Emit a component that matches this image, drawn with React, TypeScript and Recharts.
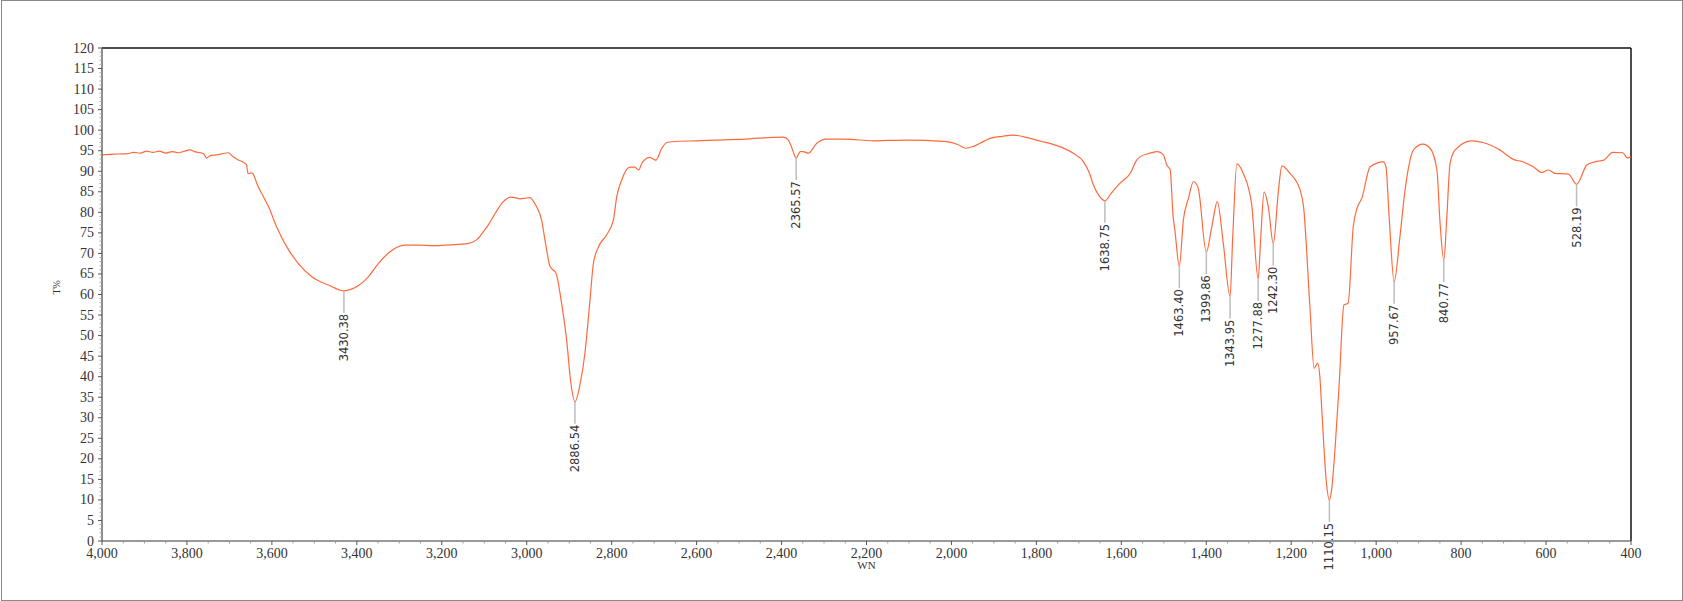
import React from 'react';
import { ComposedChart, Line, Scatter, XAxis, YAxis, ReferenceLine } from 'recharts';

// IR spectrum, wavenumber (cm-1) vs transmittance (%)
const wavenumbers = [
  4000, 3980, 3960, 3940, 3925, 3910, 3895, 3880, 3865, 3850, 3835, 3820, 3805, 3793, 3780, 3768,
  3760, 3754, 3745, 3730, 3715, 3703, 3692, 3680, 3667, 3660, 3656, 3648, 3644, 3636, 3632, 3620,
  3608, 3589, 3565, 3538, 3506, 3467, 3430.38, 3397, 3373, 3349, 3322, 3287, 3255, 3220, 3181, 3140,
  3118, 3102, 3090, 3079, 3068, 3055, 3047, 3039, 3028, 3016, 3005, 2992, 2985, 2977, 2965, 2955,
  2945, 2931, 2918, 2906, 2896, 2886.54, 2874, 2863, 2851, 2843, 2831, 2812, 2796, 2788, 2776, 2757,
  2745, 2737, 2727, 2710, 2696, 2682, 2670, 2640, 2600, 2553, 2520, 2474, 2430, 2396, 2384, 2375,
  2365.57, 2356, 2349, 2337, 2317, 2294, 2250, 2184, 2150, 2105, 2060, 2011, 1985, 1966, 1950, 1933,
  1909, 1880, 1854, 1815, 1790, 1768, 1740, 1713, 1689, 1675, 1666, 1650, 1638.75, 1625, 1611, 1603,
  1579, 1564, 1556, 1532, 1515, 1501, 1493, 1485, 1478, 1474, 1463.4, 1454, 1442, 1430, 1419, 1399.86,
  1387, 1374, 1360, 1343.95, 1338, 1328, 1313, 1293, 1277.88, 1272, 1264, 1254, 1242.3, 1230, 1222, 1203,
  1179, 1171, 1156, 1146, 1138, 1132, 1128, 1117, 1110.15, 1105, 1097, 1087, 1076, 1066, 1054, 1045,
  1034, 1014, 983, 977, 969, 957.67, 944, 932, 912, 890, 873, 857, 850, 840.77, 834, 826,
  814, 775, 748, 709, 677, 655, 630, 610, 594, 579, 547, 528.19, 504, 485, 464, 443,
  420, 408, 400,
];

const transmittance = [
  94.0, 94.1, 94.2, 94.3, 94.6, 94.4, 94.9, 94.6, 94.9, 94.4, 94.8, 94.5, 94.9, 95.2, 94.7, 94.5,
  94.2, 93.2, 93.8, 94.0, 94.3, 94.5, 93.6, 92.8, 92.2, 91.6, 89.4, 89.6, 89.3, 87.2, 86.2, 83.8,
  81.4, 76.5, 71.6, 67.6, 64.3, 62.3, 60.9, 62.1, 64.3, 67.6, 70.4, 72.0, 72.0, 71.9, 72.1, 72.4,
  73.3, 75.3, 77.0, 78.9, 80.8, 82.6, 83.3, 83.7, 83.6, 83.3, 83.4, 83.6, 82.8, 81.4, 78.1, 72.0,
  66.8, 65.2, 57.9, 48.9, 38.4, 33.9, 38.4, 45.7, 58.7, 67.6, 71.6, 74.5, 78.1, 83.8, 88.0, 91.0,
  91.0, 90.3, 92.3, 93.4, 92.7, 95.6, 97.0, 97.3, 97.4, 97.6, 97.7, 97.9, 98.2, 98.3, 97.6, 95.5,
  93.2, 94.8, 94.8, 94.4, 96.8, 97.8, 97.8, 97.4, 97.5, 97.6, 97.5, 97.2, 96.5, 95.6, 96.0, 96.8,
  98.0, 98.5, 98.8, 98.0, 97.3, 96.8, 95.8, 94.4, 92.3, 89.5, 86.7, 83.7, 82.8, 84.5, 86.2, 87.1,
  89.5, 92.7, 93.5, 94.4, 94.8, 94.0, 91.5, 90.3, 78.9, 75.7, 66.9, 78.1, 83.4, 87.5, 85.9, 70.3,
  76.5, 82.6, 72.5, 59.5, 73.3, 91.8, 89.5, 81.8, 63.8, 73.3, 85.0, 81.4, 72.4, 85.4, 91.3, 89.5,
  85.4, 81.4, 57.0, 42.0, 43.3, 39.2, 31.9, 14.0, 10.0, 12.4, 22.2, 38.4, 57.4, 57.9, 76.5, 81.0,
  83.4, 91.1, 92.3, 91.1, 78.1, 63.1, 74.1, 85.4, 95.2, 96.6, 95.6, 90.3, 78.1, 68.4, 78.1, 91.9,
  95.2, 97.4, 97.0, 95.2, 92.9, 92.3, 91.1, 89.7, 90.3, 89.5, 89.3, 86.8, 91.5, 92.3, 92.7, 94.6,
  94.5, 93.2, 93.5,
];

const peakWavenumbers = [3430.38, 2886.54, 2365.57, 1638.75, 1463.4, 1399.86, 1343.95, 1277.88, 1242.3, 1110.15, 957.67, 840.77, 528.19];
const peakTransmittance = [60.9, 33.9, 93.2, 82.8, 66.9, 70.3, 59.5, 63.8, 72.4, 10.0, 63.1, 68.4, 86.8];
const peakLabels = ['3430.38', '2886.54', '2365.57', '1638.75', '1463.40', '1399.86', '1343.95', '1277.88', '1242.30', '1110.15', '957.67', '840.77', '528.19'];

const xMajorTicks = [4000, 3800, 3600, 3400, 3200, 3000, 2800, 2600, 2400, 2200, 2000, 1800, 1600, 1400, 1200, 1000, 800, 600, 400];
const xTicks = Array.from({ length: 73 }, (_, i) => 4000 - i * 50);
const yTicks = Array.from({ length: 121 }, (_, i) => i);

const spectrum = wavenumbers.map((wn, i) => ({ wn, t: transmittance[i] }));
const peaks = peakWavenumbers.map((wn, i) => ({ wn, t: peakTransmittance[i], label: peakLabels[i] }));

const SERIF = '"Liberation Serif", "Times New Roman", serif';

const XTick = (props: any) => {
  const { x, y, payload } = props;
  const major = xMajorTicks.includes(payload.value);
  return (
    <g>
      <line x1={x} x2={x} y1={y} y2={y + (major ? 4 : 2.5)} stroke={major ? '#555' : '#999'} strokeWidth={1} />
      {major && (
        <text x={x} y={y + 17} textAnchor="middle" fontFamily={SERIF} fontSize={14} fill="#333">
          {payload.value.toLocaleString('en-US')}
        </text>
      )}
    </g>
  );
};

const YTick = (props: any) => {
  const { x, y, payload } = props;
  const major = payload.value % 5 === 0;
  return (
    <g>
      <line x1={x - (major ? 4 : 2.5)} x2={x} y1={y} y2={y} stroke={major ? '#555' : '#aaa'} strokeWidth={1} />
      {major && (
        <text x={x - 8} y={y} textAnchor="end" dominantBaseline="central" fontFamily={SERIF} fontSize={14} fill="#333">
          {payload.value}
        </text>
      )}
    </g>
  );
};

const PeakMarker = (props: any) => {
  const { cx, cy, payload } = props;
  if (cx == null || cy == null) return null;
  return (
    <g>
      <line x1={cx} x2={cx} y1={cy} y2={cy + 22} stroke="#bdbdbd" strokeWidth={1.5} />
      <text
        transform={`translate(${cx},${cy + 23}) rotate(-90)`}
        textAnchor="end"
        dominantBaseline="central"
        fontFamily='"DejaVu Sans", Verdana, sans-serif'
        fontSize={11.5}
        fill="#333"
      >
        {payload.label}
      </text>
    </g>
  );
};

export default function App() {
  return (
    <div style={{ position: 'absolute', left: 0, top: 0, width: 1683, height: 601, background: '#fff' }}>
      <ComposedChart width={1683} height={601} data={spectrum} margin={{ top: 48, right: 52, bottom: 30, left: 42 }}>
        <XAxis
          dataKey="wn"
          type="number"
          domain={[400, 4000]}
          reversed
          allowDataOverflow
          ticks={xTicks}
          interval={0}
          tick={<XTick />}
          tickLine={false}
          tickSize={0}
          tickMargin={0}
          height={30}
          axisLine={{ stroke: '#777', strokeWidth: 1.5 }}
          label={{ value: 'WN', position: 'insideBottom', offset: 2, fontSize: 11, fontFamily: SERIF, fill: '#333' }}
        />
        <YAxis
          type="number"
          domain={[0, 120]}
          ticks={yTicks}
          interval={0}
          tick={<YTick />}
          tickLine={false}
          tickSize={0}
          tickMargin={0}
          width={60}
          axisLine={{ stroke: '#666', strokeWidth: 1.5 }}
          label={{ value: 'T%', position: 'insideLeft', angle: -90, offset: 14, fontSize: 10, fontFamily: SERIF, fill: '#333' }}
        />
        <ReferenceLine y={120} stroke="#111" strokeWidth={1.5} />
        <ReferenceLine x={400} stroke="#111" strokeWidth={1.5} />
        <Line type="monotone" dataKey="t" stroke="#ff6a3d" strokeWidth={1.2} dot={false} isAnimationActive={false} />
        <Scatter data={peaks} dataKey="t" shape={<PeakMarker />} isAnimationActive={false} />
      </ComposedChart>
      <div
        style={{
          position: 'absolute',
          left: 1,
          top: 0,
          width: 1682,
          height: 601,
          boxSizing: 'border-box',
          border: '1px solid #8a8a8a',
          pointerEvents: 'none',
        }}
      />
    </div>
  );
}
